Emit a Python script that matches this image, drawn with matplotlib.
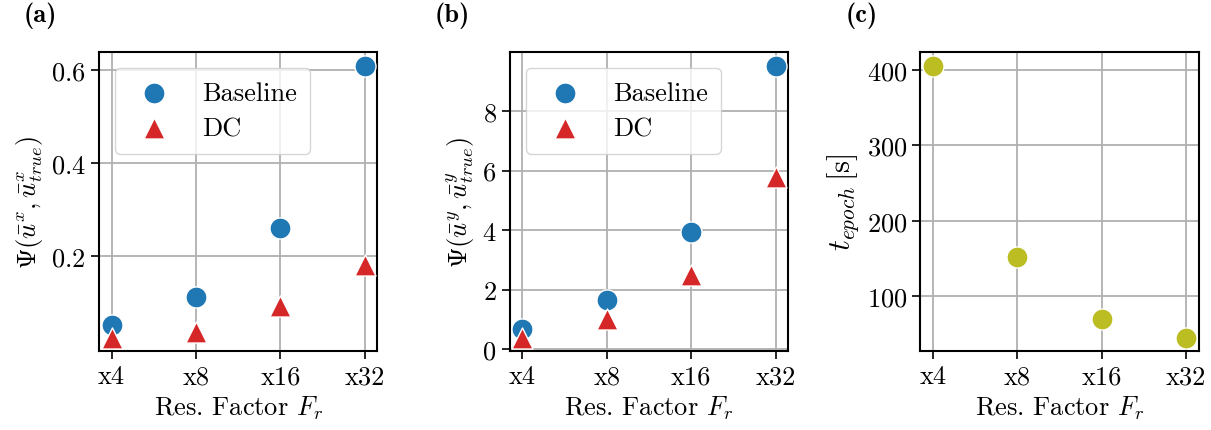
import matplotlib
matplotlib.use('Agg')
import matplotlib.pyplot as plt
import numpy as np

plt.rcParams['font.family'] = 'serif'
plt.rcParams['font.serif'] = ['cmr10']
plt.rcParams['mathtext.fontset'] = 'cm'
plt.rcParams['axes.formatter.use_mathtext'] = True
plt.rcParams['font.size'] = 19

factors = ['x4', 'x8', 'x16', 'x32']
psi_x_baseline = [0.053, 0.113, 0.260, 0.610]
psi_x_dc = [0.025, 0.037, 0.093, 0.180]
psi_y_baseline = [0.68, 1.66, 3.95, 9.52]
psi_y_dc = [0.40, 1.01, 2.50, 5.78]
t_epoch = [406, 152, 70, 45]

blue = '#1f77b4'
red = '#d62728'
olive = '#bcbd22'

fig, axes = plt.subplots(1, 3, figsize=(12.11, 4.31), dpi=100)
plt.subplots_adjust(left=0.0818, right=0.990, top=0.877, bottom=0.183, wspace=0.475)

x = np.arange(len(factors))
ms = 230

def style(ax):
    ax.grid(True, color='#b0b0b0', linewidth=1.3)
    ax.set_axisbelow(True)
    for s in ax.spines.values():
        s.set_linewidth(1.5)
    ax.tick_params(length=6, width=1.2)
    ax.set_xticks(x)
    ax.set_xticklabels(factors)
    ax.set_xlabel('Res. Factor $F_r$')

legend_kw = dict(loc='upper left', handletextpad=0.8, borderpad=0.5,
                 labelspacing=0.45, fontsize=19, borderaxespad=0.6)

ax = axes[0]
ax.scatter(x, psi_x_baseline, s=ms, c=blue, edgecolors='white', linewidths=1, marker='o', label='Baseline', zorder=3)
ax.scatter(x, psi_x_dc, s=ms, c=red, edgecolors='white', linewidths=1, marker='^', label='DC', zorder=3)
ax.set_yticks([0.2, 0.4, 0.6])
ax.set_ylabel(r'$\Psi(\bar{u}^x, \bar{u}^x_{true})$')
style(ax)
ax.legend(**legend_kw)

ax = axes[1]
ax.scatter(x, psi_y_baseline, s=ms, c=blue, edgecolors='white', linewidths=1, marker='o', label='Baseline', zorder=3)
ax.scatter(x, psi_y_dc, s=ms, c=red, edgecolors='white', linewidths=1, marker='^', label='DC', zorder=3)
ax.set_yticks([0, 2, 4, 6, 8])
ax.set_ylabel(r'$\Psi(\bar{u}^y, \bar{u}^y_{true})$')
style(ax)
ax.legend(**legend_kw)

ax = axes[2]
ax.scatter(x, t_epoch, s=ms, c=olive, edgecolors='white', linewidths=1, marker='o', zorder=3)
ax.set_yticks([100, 200, 300, 400])
ax.set_ylabel(r'$t_{epoch}\,[\mathrm{s}]$', fontsize=22)
style(ax)

for ax, lab in zip(axes, ['a', 'b', 'c']):
    ax.text(-0.27, 1.08, '(' + lab + ')', transform=ax.transAxes, fontsize=19,
            family='cmb10', va='bottom', ha='left')

plt.savefig('out.png', dpi=100)
